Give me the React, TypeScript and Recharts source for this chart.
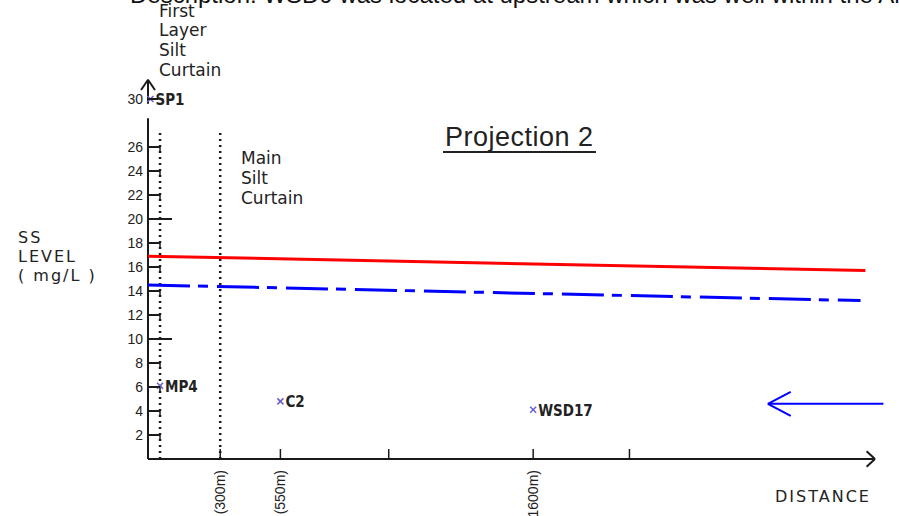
import { ComposedChart, Line, ReferenceLine, Scatter, XAxis, YAxis } from "recharts";

// SS level (mg/L) vs distance (m), Projection 2
const levelTicks = [2, 4, 6, 8, 10, 12, 14, 16, 18, 20, 22, 24, 26, 30];
const longLevelTicks = [10, 20];
const distanceTicks = [300, 550, 1000, 1600, 2000];
const distanceLabels: Record<number, string> = { 300: "(300m)", 550: "(550m)", 1600: "(1600m)" };

const stationNames = ["SP1", "MP4", "C2", "WSD17"];
const stationDistance = [10, 50, 550, 1600];
const stationLevel = [30, 6.1, 4.8, 4.1];

const limitDistance = [0, 2980];
const limitLevel = [16.9, 15.7];
const actionDistance = [0, 2960];
const actionLevel = [14.5, 13.2];

const curtainDistance = [50, 300];
const curtainTop = 27.2;

// broken y axis with an arrow on top
const yAxisParts = [
  [0, 28.4],
  [29.6, 31.6]
];
const yArrowHead = { tip: 31.6, base: 30.75, half: 29 };
const xArrowHead = { tip: 3020, base: 2985, half: 0.65 };

// current direction arrow
const flowLevel = 4.6;
const flowFrom = 3055;
const flowTo = 2575;
const flowHead = { base: 2670, half: 1 };

const redData = limitDistance.map((x, i) => ({ x, y: limitLevel[i] }));
const blueData = actionDistance.map((x, i) => ({ x, y: actionLevel[i] }));
const stations = stationNames.map((name, i) => ({ name, x: stationDistance[i], y: stationLevel[i] }));

const ink = "#1a1a1a";
const numFont = "'Liberation Sans', Arial, sans-serif";
const cadFont = "'DejaVu Sans', sans-serif";

function LevelTick(props: any) {
  const { x, y, payload } = props;
  const v = payload.value;
  const len = longLevelTicks.includes(v) ? 24 : v === 30 ? 10 : 12;
  return (
    <g>
      <text x={x - 5} y={y + 5} textAnchor="end" fontSize={14} fontFamily={numFont} fill="#222">
        {v}
      </text>
      <line x1={x} x2={x + len} y1={y} y2={y} stroke={ink} strokeWidth={2} />
      {len === 12 ? <line x1={x + len} x2={x + len} y1={y} y2={y + 5} stroke={ink} strokeWidth={1.5} /> : null}
    </g>
  );
}

function DistanceTick(props: any) {
  const { x, y, payload } = props;
  const label = distanceLabels[payload.value];
  return (
    <g>
      <line x1={x} x2={x} y1={y} y2={y - 10} stroke={ink} strokeWidth={1.5} />
      {label ? (
        <text
          x={x + 5}
          y={y + 11}
          transform={`rotate(-90 ${x + 5} ${y + 11})`}
          textAnchor="end"
          fontSize={14}
          fontFamily={numFont}
          fill="#222"
        >
          {label}
        </text>
      ) : null}
    </g>
  );
}

function StationMark(props: any) {
  const { cx, cy, payload } = props;
  return (
    <g>
      <line x1={cx - 3} x2={cx + 3} y1={cy - 3} y2={cy + 3} stroke="#6a5fd0" strokeWidth={1.5} />
      <line x1={cx - 3} x2={cx + 3} y1={cy + 3} y2={cy - 3} stroke="#6a5fd0" strokeWidth={1.5} />
      <text x={cx + 5} y={cy + 6} fontSize={15} fontWeight="bold" fontFamily="'DejaVu Sans Condensed', 'DejaVu Sans', sans-serif" fill="#222">
        {payload.name}
      </text>
    </g>
  );
}

const seg = (x1: number, y1: number, x2: number, y2: number) => [
  { x: x1, y: y1 },
  { x: x2, y: y2 }
];

export default function App() {
  return (
    <div style={{ position: "absolute", left: 0, top: 0, width: 899, height: 516, background: "#fff" }}>
      <ComposedChart width={899} height={516} margin={{ top: 99, right: 24, bottom: 7, left: 108 }}>
        <XAxis
          type="number"
          dataKey="x"
          domain={[0, 3020]}
          ticks={distanceTicks}
          interval={0}
          tick={<DistanceTick />}
          tickLine={false}
          tickSize={0}
          tickMargin={0}
          axisLine={{ stroke: ink, strokeWidth: 2 }}
          height={50}
        />
        <YAxis
          type="number"
          dataKey="y"
          domain={[0, 30]}
          ticks={levelTicks}
          interval={0}
          tick={<LevelTick />}
          tickLine={false}
          tickSize={0}
          tickMargin={0}
          axisLine={false}
          width={40}
        />

        {yAxisParts.map(([a, b]) => (
          <ReferenceLine key={a} segment={seg(0, a, 0, b)} stroke={ink} strokeWidth={2} ifOverflow="visible" />
        ))}
        <ReferenceLine segment={seg(0, yArrowHead.tip, -yArrowHead.half, yArrowHead.base)} stroke={ink} strokeWidth={2} ifOverflow="visible" />
        <ReferenceLine segment={seg(0, yArrowHead.tip, yArrowHead.half, yArrowHead.base)} stroke={ink} strokeWidth={2} ifOverflow="visible" />
        <ReferenceLine segment={seg(xArrowHead.tip, 0, xArrowHead.base, xArrowHead.half)} stroke={ink} strokeWidth={2} ifOverflow="visible" />
        <ReferenceLine segment={seg(xArrowHead.tip, 0, xArrowHead.base, -xArrowHead.half)} stroke={ink} strokeWidth={2} ifOverflow="visible" />

        {curtainDistance.map((d) => (
          <ReferenceLine key={d} segment={seg(d, 0, d, curtainTop)} stroke={ink} strokeWidth={2.5} strokeDasharray="2 4" ifOverflow="visible" />
        ))}

        <ReferenceLine segment={seg(flowFrom, flowLevel, flowTo, flowLevel)} stroke="#0000ff" strokeWidth={2} ifOverflow="visible" />
        <ReferenceLine segment={seg(flowTo, flowLevel, flowHead.base, flowLevel + flowHead.half)} stroke="#0000ff" strokeWidth={2} ifOverflow="visible" />
        <ReferenceLine segment={seg(flowTo, flowLevel, flowHead.base, flowLevel - flowHead.half)} stroke="#0000ff" strokeWidth={2} ifOverflow="visible" />

        <Line data={redData} dataKey="y" type="linear" stroke="#ff0000" strokeWidth={3} dot={false} isAnimationActive={false} />
        <Line
          data={blueData}
          dataKey="y"
          type="linear"
          stroke="#0000ff"
          strokeWidth={3}
          strokeDasharray="42 8 10 9"
          dot={false}
          isAnimationActive={false}
        />
        <Scatter data={stations} shape={<StationMark />} isAnimationActive={false} />
      </ComposedChart>

      <svg width={899} height={516} style={{ position: "absolute", left: 0, top: 0, pointerEvents: "none" }}>
        <text x={130} y={3} fontSize={24} fontFamily={numFont} fill="#111">
          Description: WSD9 was located at upstream which was well within the Area
        </text>
        <g fontFamily={cadFont} fontSize={17} fill="#222">
          <text x={159} y={17}>First</text>
          <text x={159} y={36}>Layer</text>
          <text x={159} y={56}>Silt</text>
          <text x={159} y={76}>Curtain</text>
          <text x={241} y={164}>Main</text>
          <text x={241} y={184}>Silt</text>
          <text x={241} y={204}>Curtain</text>
        </g>
        <text x={445} y={146} fontSize={27} fontFamily={numFont} fill="#222" letterSpacing={0.5}>
          Projection 2
        </text>
        <line x1={443} x2={596} y1={152} y2={152} stroke="#222" strokeWidth={2} />
        <g fontFamily={cadFont} fontSize={16} fill="#222" letterSpacing={2}>
          <text x={18} y={243}>SS</text>
          <text x={18} y={262}>LEVEL</text>
          <text x={18} y={281}>( mg/L )</text>
          <text x={775} y={502}>DISTANCE</text>
        </g>
      </svg>
    </div>
  );
}
